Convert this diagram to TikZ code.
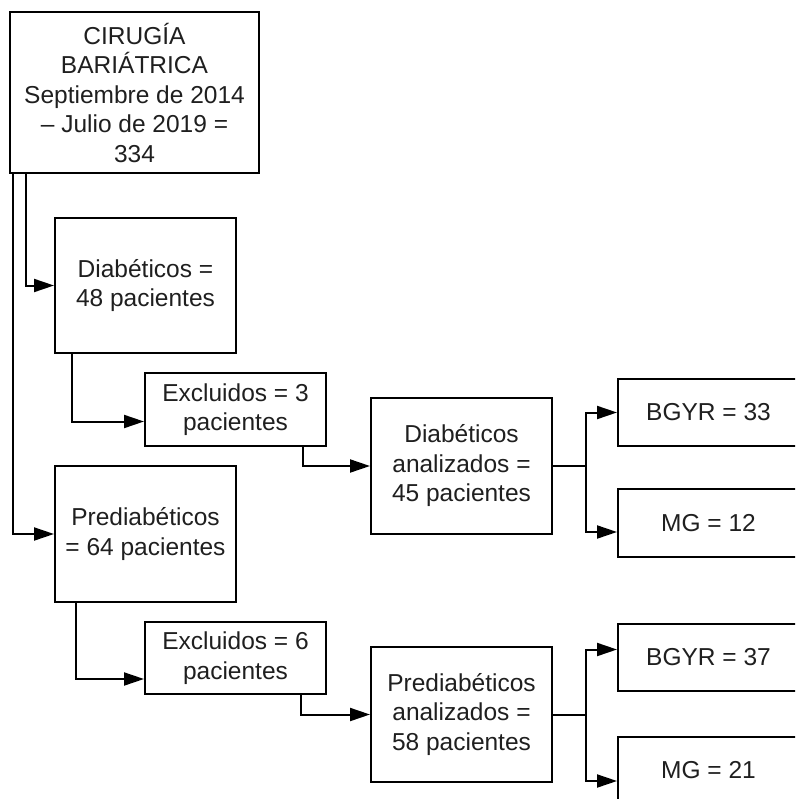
\documentclass[tikz,border=0pt]{standalone}
\usepackage{fontspec}
\setmainfont{Liberation Sans}
\usetikzlibrary{arrows.meta}
\begin{document}
\begin{tikzpicture}[x=1pt,y=-1pt,
    caja/.style={draw,line width=2pt,align=center,inner sep=0pt,
      font=\fontsize{24.5}{29.5}\selectfont,text=black!88},
    flecha/.style={line width=2pt,-{Triangle[length=20pt,width=13pt]}}]
      \path[use as bounding box,clip] (0,0) rectangle (795,799);
      \draw
        (134.5,92.5) node[caja,minimum width=249pt,minimum height=161pt] (cir){CIRUGÍA\\BARIÁTRICA\\Septiembre de 2014\\– Julio de 2019 =\\334}
        (145.5,285.5) node[caja,minimum width=181pt,minimum height=135pt] (diab){Diabéticos =\\48 pacientes}
        (235.5,409.5) node[caja,minimum width=181pt,minimum height=73pt] (exc1){Excluidos = 3\\pacientes}
        (461.5,466) node[caja,minimum width=181pt,minimum height=136pt] (dan){Diabéticos\\analizados =\\45 pacientes}
        (708.5,412.5) node[caja,minimum width=181pt,minimum height=67pt] (bg1){BGYR = 33}
        (708.5,523) node[caja,minimum width=181pt,minimum height=68pt] (mg1){MG = 12}
        (145.5,534) node[caja,minimum width=181pt,minimum height=136pt] (pre){Prediabéticos\\= 64 pacientes}
        (235.5,658) node[caja,minimum width=181pt,minimum height=72pt] (exc2){Excluidos = 6\\pacientes}
        (461.5,714.5) node[caja,minimum width=181pt,minimum height=135pt] (pan){Prediabéticos\\analizados =\\58 pacientes}
        (708.5,657.5) node[caja,minimum width=181pt,minimum height=67pt] (bg2){BGYR = 37}
        (708.5,770) node[caja,minimum width=181pt,minimum height=66pt] (mg2){MG = 21};
      \begin{scope}[flecha]
        \draw ([xshift=4pt]cir.south west) |- (pre.west);
        \draw ([xshift=17pt]cir.south west) |- (diab.west);
        \draw ([xshift=18pt]diab.south west) |- ([yshift=-12pt]exc1.west);
        \draw ([xshift=-24pt]exc1.south east) |- (dan.west);
        \draw (dan.east) -- ++(33,0) |- (bg1.west);
        \draw (dan.east) -- ++(33,0) |- ([yshift=-9pt]mg1.west);
        \draw ([xshift=22pt]pre.south west) |- ([yshift=-21pt]exc2.west);
        \draw ([xshift=-26pt]exc2.south east) |- (pan.west);
        \draw (pan.east) -- ++(33,0) |- ([yshift=8pt]bg2.west);
        \draw (pan.east) -- ++(33,0) |- ([yshift=-11pt]mg2.west);
      \end{scope}
    \end{tikzpicture}
\end{document}
